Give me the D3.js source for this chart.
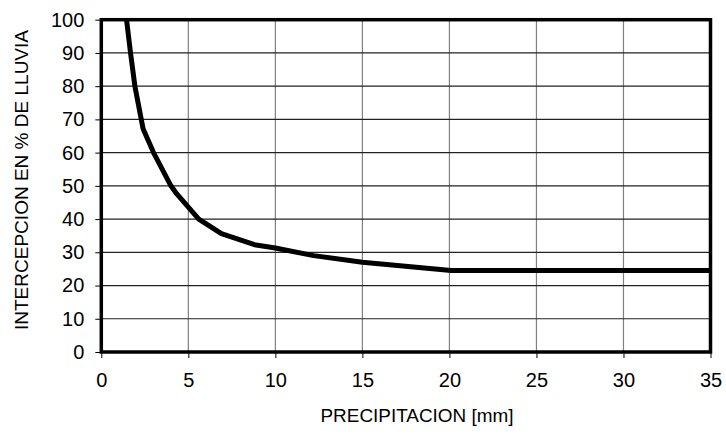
<!DOCTYPE html>
<html>
<head>
<meta charset="utf-8">
<script src="https://cdn.jsdelivr.net/npm/d3@7"></script>
<style>
  html, body { margin: 0; padding: 0; background: #fff; }
  text { font-family: "Liberation Sans", Arial, sans-serif; fill: #000; }
</style>
</head>
<body>
<svg id="chart" width="726" height="435"></svg>
<script>
// Interception as a percentage of rainfall versus precipitation depth
const precipitation = [1.45, 1.68, 1.93, 2.4, 3.0, 4.0, 4.35, 5.6, 6.9, 8.8, 10.0, 12.2, 15.0, 20.1, 35.0];
const interception  = [100, 90, 80, 67.2, 60, 50, 47.5, 40, 35.6, 32.3, 31.3, 29.0, 27.0, 24.5, 24.5];
const xTicks = [0, 5, 10, 15, 20, 25, 30, 35];
const yTicks = [0, 10, 20, 30, 40, 50, 60, 70, 80, 90, 100];
const xTitle = "PRECIPITACION [mm]";
const yTitle = "INTERCEPCION EN % DE LLUVIA";

const svg = d3.select("#chart");
const m = { left: 101.3, right: 726 - 710.5, top: 19.7, bottom: 435 - 352 };
const W = 726 - m.left - m.right, H = 435 - m.top - m.bottom;

const x = d3.scaleLinear().domain([0, 35]).range([0, W]);
const y = d3.scaleLinear().domain([0, 100]).range([H, 0]);

const g = svg.append("g").attr("transform", `translate(${m.left},${m.top})`);

// vertical grid (gray)
g.append("g").selectAll("line").data(xTicks.slice(1, -1)).join("line")
  .attr("x1", d => x(d)).attr("x2", d => x(d))
  .attr("y1", 0).attr("y2", H)
  .attr("stroke", "#808080").attr("stroke-width", 1.2);

// horizontal grid (dark)
g.append("g").selectAll("line").data(yTicks.slice(1, -1)).join("line")
  .attr("x1", 0).attr("x2", W)
  .attr("y1", d => y(d)).attr("y2", d => y(d))
  .attr("stroke", "#222").attr("stroke-width", 1.2);

// axes with outward ticks
const yAxis = g.append("g")
  .call(d3.axisLeft(y).tickValues(yTicks).tickSize(6).tickPadding(11).tickFormat(d3.format("d")));
const xAxis = g.append("g").attr("transform", `translate(0,${H})`)
  .call(d3.axisBottom(x).tickValues(xTicks).tickSize(6).tickPadding(15).tickFormat(d3.format("d")));
[yAxis, xAxis].forEach(a => {
  a.select(".domain").remove();
  a.selectAll(".tick line").attr("stroke", "#000").attr("stroke-width", 1);
  a.selectAll(".tick text").attr("font-size", 20)
    .attr("font-family", "'Liberation Sans', Arial, sans-serif").attr("fill", "#000");
});

// curve
const line = d3.line().x((d, i) => x(precipitation[i])).y(d => y(d));
g.append("path").datum(interception)
  .attr("d", line)
  .attr("fill", "none").attr("stroke", "#000")
  .attr("stroke-width", 5).attr("stroke-linejoin", "round");

// plot frame
g.append("rect").attr("x", 0).attr("y", 0).attr("width", W).attr("height", H)
  .attr("fill", "none").attr("stroke", "#000").attr("stroke-width", 3.5);

// axis titles
svg.append("text")
  .attr("x", 417).attr("y", 422)
  .attr("text-anchor", "middle").attr("font-size", 19)
  .attr("textLength", 193).attr("lengthAdjust", "spacingAndGlyphs")
  .text(xTitle);
svg.append("text")
  .attr("transform", `translate(28,180) rotate(-90)`)
  .attr("text-anchor", "middle").attr("font-size", 19)
  .attr("textLength", 300).attr("lengthAdjust", "spacingAndGlyphs")
  .text(yTitle);
</script>
</body>
</html>
